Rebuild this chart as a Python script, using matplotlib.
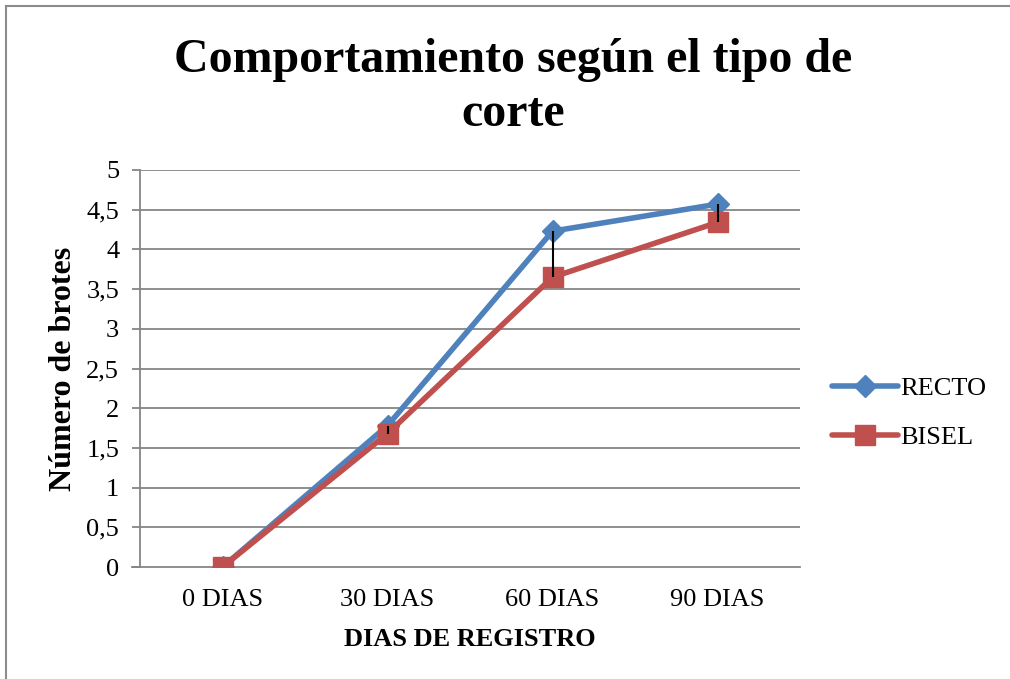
import matplotlib
matplotlib.use("Agg")
import matplotlib.pyplot as plt
from matplotlib.lines import Line2D

categories = ["0 DIAS", "30 DIAS", "60 DIAS", "90 DIAS"]
recto = [0, 1.78, 4.23, 4.57]
bisel = [0, 1.68, 3.65, 4.34]
yticks = [0, 0.5, 1, 1.5, 2, 2.5, 3, 3.5, 4, 4.5, 5]
ytick_labels = ["0", "0,5", "1", "1,5", "2", "2,5", "3", "3,5", "4", "4,5", "5"]

plt.rcParams['font.family'] = ['Liberation Serif', 'DejaVu Serif']

fig = plt.figure(figsize=(10.1, 6.79), dpi=100)
ax = fig.add_axes([140/1010, 1-567/679, 660/1010, 397/679])

x = list(range(len(categories)))
blue = "#4F81BD"
red = "#C0504D"

for yv in yticks[1:]:
    ax.axhline(yv, color="#868686", lw=1.3, zorder=0)

ax.plot(x, recto, color=blue, lw=4, marker="D", ms=11, label="RECTO", zorder=3,
        solid_capstyle="round")
ax.plot(x, bisel, color=red, lw=4, marker="s", ms=14, label="BISEL", zorder=4,
        solid_capstyle="round")
for xi, a, b in zip(x, recto, bisel):
    if a != b:
        ax.vlines(xi, min(a, b), max(a, b), color="black", lw=1.5, zorder=5)

ax.set_xlim(-0.5, 3.5)
ax.set_ylim(0, 5)
ax.set_yticks(yticks)
ax.set_yticklabels(ytick_labels, fontsize=19)
ax.set_xticks(x)
ax.set_xticklabels(categories, fontsize=19)
ax.tick_params(axis="x", length=0, pad=16)
ax.tick_params(axis="y", length=6, color="#868686", width=1.3, pad=9, direction="out")
for s in ["top", "right"]:
    ax.spines[s].set_visible(False)
for s in ["left", "bottom"]:
    ax.spines[s].set_color("#868686")
    ax.spines[s].set_linewidth(1.3)
ax.spines["bottom"].set_bounds(-0.55, 3.5)
ax.spines["bottom"].set_zorder(1)

ax.set_ylabel("Número de brotes", fontsize=23, fontweight="bold", labelpad=6)
ax.set_xlabel("DIAS DE REGISTRO", fontsize=19, fontweight="bold", labelpad=12)

fig.text(0.508, 1-87/679, "Comportamiento según el tipo de\ncorte", ha="center", va="center",
         fontsize=34.5, fontweight="bold", linespacing=1.3)

h, l = ax.get_legend_handles_labels()
leg = fig.legend(h, l, loc="center left", bbox_to_anchor=(832/1010, 1-413/679), frameon=False,
                 fontsize=19, handlelength=2.5, labelspacing=0.95, handletextpad=0.1,
                 borderpad=0, borderaxespad=0)

fig.add_artist(Line2D([6/1010, 6/1010], [0, 1-6/679], color="#8c8c8c", lw=1.5))
fig.add_artist(Line2D([6/1010, 1], [1-6/679, 1-6/679], color="#8c8c8c", lw=1.5))

fig.savefig("out.png", dpi=100)
